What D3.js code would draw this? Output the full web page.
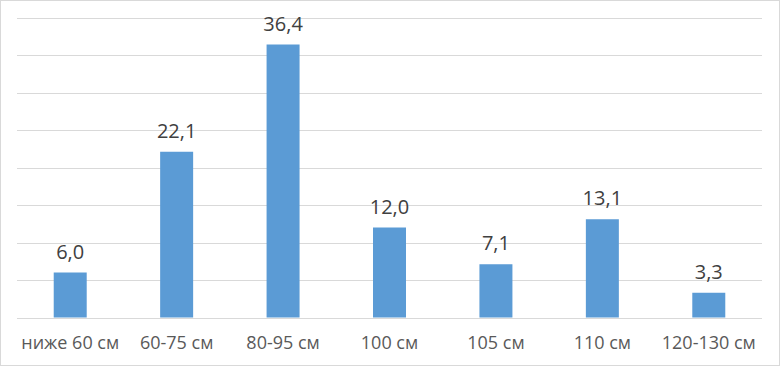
<!DOCTYPE html>
<html>
<head>
<meta charset="utf-8">
<script src="https://cdn.jsdelivr.net/npm/d3@7"></script>
<style>
  body { margin: 0; background: #fff; }
  svg { display: block; }
</style>
</head>
<body>
<svg id="chart"></svg>
<script>
const width = 780;
const height = 366;

// dati
const categories = ["ниже 60 см", "60-75 см", "80-95 см", "100 см", "105 см", "110 см", "120-130 см"];
const values = [6.0, 22.1, 36.4, 12.0, 7.1, 13.1, 3.3];
const yTicks = [0, 5, 10, 15, 20, 25, 30, 35, 40];

const margin = { left: 17, right: 18, top: 17.5, bottom: 48.5 };

const svg = d3.select("#chart")
    .attr("width", width)
    .attr("height", height);

svg.append("rect")
    .attr("x", 0.5).attr("y", 0.5)
    .attr("width", width - 1).attr("height", height - 1)
    .attr("fill", "#fff")
    .attr("stroke", "#d9d9d9");

const x = d3.scaleBand()
    .domain(categories)
    .range([margin.left, width - margin.right])
    .paddingInner(0.69)
    .paddingOuter(0.345);

const y = d3.scaleLinear()
    .domain([0, 40])
    .range([height - margin.bottom, margin.top]);

// griglia
svg.append("g")
    .selectAll("line")
    .data(yTicks)
    .enter()
    .append("line")
    .attr("x1", margin.left)
    .attr("x2", width - margin.right)
    .attr("y1", d => Math.round(y(d)) + 0.5)
    .attr("y2", d => Math.round(y(d)) + 0.5)
    .attr("stroke", "#d9d9d9")
    .attr("stroke-width", 1);

// barre
svg.append("g")
    .selectAll("rect")
    .data(values)
    .enter()
    .append("rect")
    .attr("x", (d, i) => x(categories[i]))
    .attr("y", d => y(d))
    .attr("width", x.bandwidth())
    .attr("height", d => y(0) - y(d))
    .attr("fill", "#5b9bd5");

// etichette valori
const fmt = d => d3.format(".1f")(d).replace(".", ",");
svg.append("g")
    .selectAll("text")
    .data(values)
    .enter()
    .append("text")
    .attr("x", (d, i) => x(categories[i]) + x.bandwidth() / 2)
    .attr("y", d => y(d) - 14)
    .attr("text-anchor", "middle")
    .attr("font-family", "Open Sans, sans-serif")
    .attr("font-size", 20)
    .attr("fill", "#404040")
    .text(fmt);

// asse x
const xAxis = svg.append("g")
    .attr("transform", `translate(0,${y(0)})`)
    .call(d3.axisBottom(x).tickSize(0).tickPadding(0));
xAxis.select(".domain").remove();
xAxis.selectAll("text")
    .attr("y", 31.5)
    .attr("dy", null)
    .attr("font-family", "Open Sans, sans-serif")
    .attr("font-size", 18)
    .attr("fill", "#595959");
</script>
</body>
</html>
